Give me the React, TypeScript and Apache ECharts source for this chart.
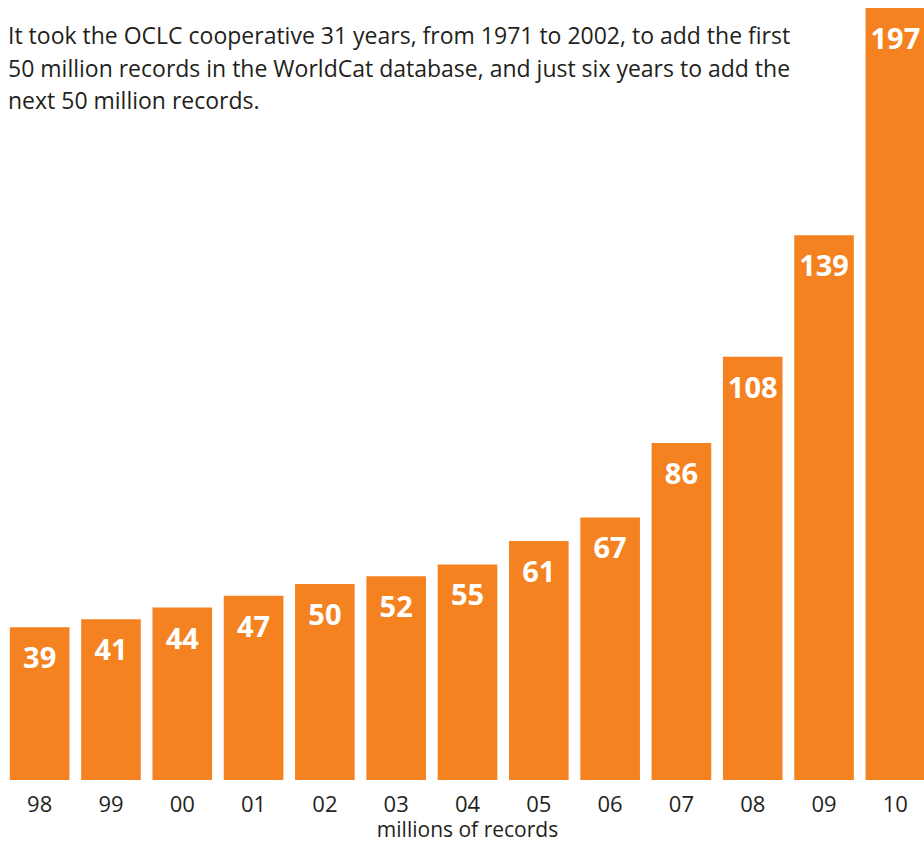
import React, { useEffect, useRef } from "react";
import * as echarts from "echarts";

const categories = ["98", "99", "00", "01", "02", "03", "04", "05", "06", "07", "08", "09", "10"];
const records = [39, 41, 44, 47, 50, 52, 55, 61, 67, 86, 108, 139, 197];
const titleLines = [
  "It took the OCLC cooperative 31 years, from 1971 to 2002, to add the first",
  "50 million records in the WorldCat database, and just six years to add the",
  "next 50 million records.",
];
const axisName = "millions of records";

export default function App() {
  const ref = useRef<HTMLDivElement>(null);
  useEffect(() => {
    document.body.style.margin = "0";
    const chart = echarts.init(ref.current!, null, { renderer: "svg" });
    chart.setOption({
      animation: false,
      backgroundColor: "#ffffff",
      grid: { left: 4, width: 927, top: 8, bottom: 62, containLabel: false, outerBoundsMode: "none" },
      xAxis: {
        type: "category",
        data: categories,
        axisLine: { show: false },
        axisTick: { show: false },
        axisLabel: {
          color: "#231f20",
          fontSize: 22,
          fontFamily: "Open Sans",
          margin: 12,
        },
        name: axisName,
        nameLocation: "middle",
        nameGap: 39,
        nameTextStyle: { color: "#231f20", fontSize: 21, lineHeight: 20, fontFamily: "Open Sans" },
      },
      yAxis: { type: "value", min: 0, max: 197, show: false, splitLine: { show: false } },
      graphic: [
        {
          type: "text",
          left: 8,
          top: 19,
          style: {
            text: titleLines.join("\n"),
            fontSize: 23,
            lineHeight: 32.5,
            fontFamily: "Open Sans",
            fill: "#231f20",
          },
        },
      ],
      series: [
        {
          type: "bar",
          data: records,
          barCategoryGap: "16.4%",
          itemStyle: { color: "#f58220" },
          label: {
            show: true,
            position: "insideTop",
            distance: 15,
            color: "#ffffff",
            fontSize: 29,
            fontWeight: "bold",
            fontFamily: "Open Sans",
          },
        },
      ],
    });
    return () => chart.dispose();
  }, []);
  return <div ref={ref} style={{ width: 924, height: 842, position: "absolute", left: 0, top: 0 }} />;
}
